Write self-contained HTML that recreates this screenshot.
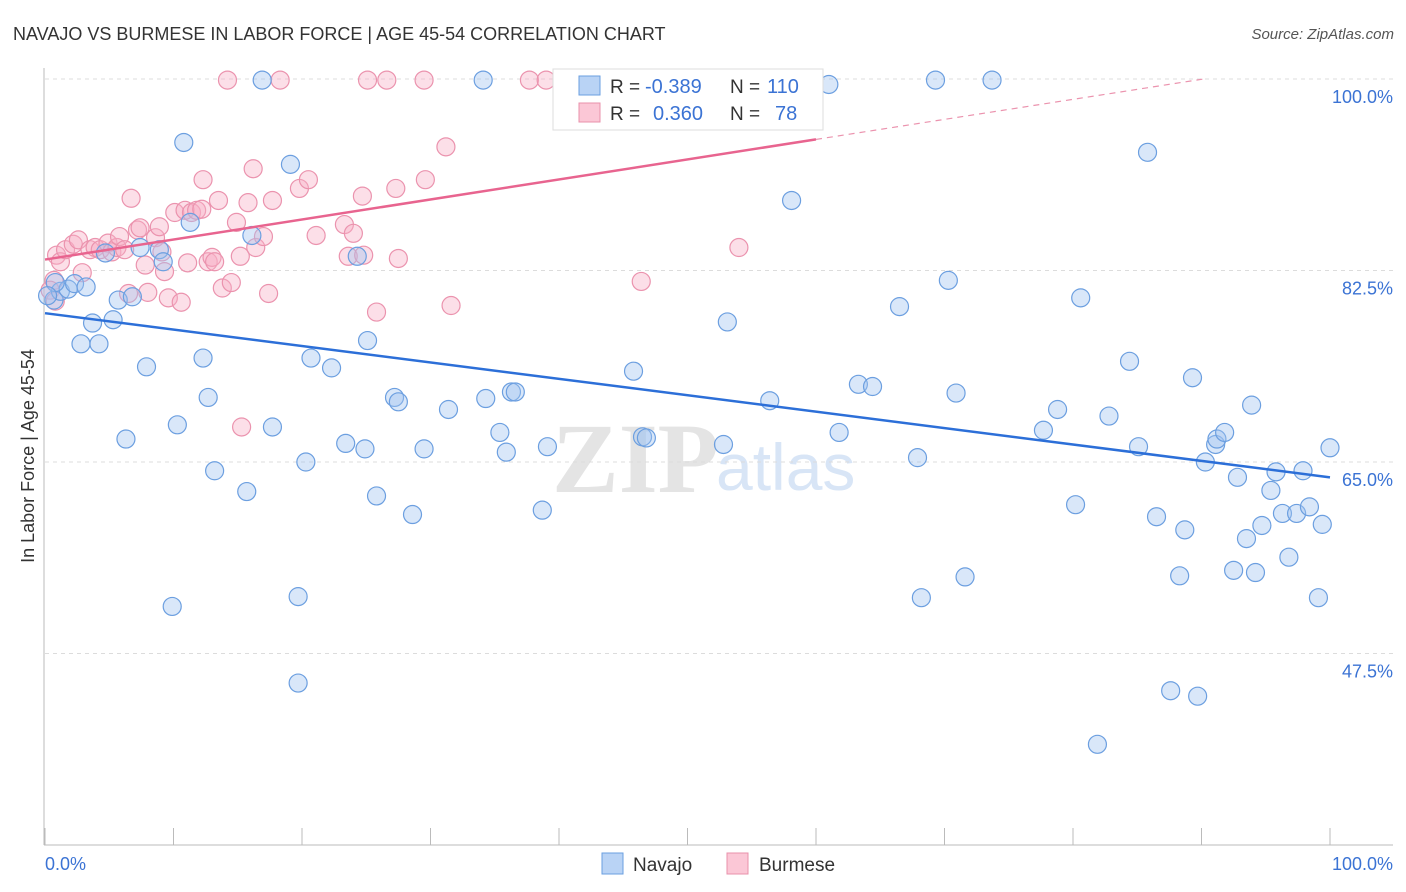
<!DOCTYPE html>
<html><head><meta charset="utf-8"><style>
body{margin:0;background:#fff;font-family:"Liberation Sans",sans-serif;}
#wrap{position:relative;width:1406px;height:892px;overflow:hidden;}
</style></head><body>
<div id="wrap">
<svg id="svg" width="1406" height="892" xmlns="http://www.w3.org/2000/svg">
<text x="13" y="40" font-size="18" fill="#333">NAVAJO VS BURMESE IN LABOR FORCE | AGE 45-54 CORRELATION CHART</text>
<text x="1394" y="39" font-size="15" fill="#555" font-style="italic" text-anchor="end">Source: ZipAtlas.com</text>
<text transform="translate(34,456) rotate(-90)" font-size="18" fill="#333" text-anchor="middle">In Labor Force | Age 45-54</text>
<g>
<text x="552" y="492" font-size="100" font-family="Liberation Serif,serif" fill="#e4e4e4" font-weight="bold">ZIP</text>
<text x="716" y="490" font-size="66" fill="#d8e5f6">atlas</text>
</g>
<g id="grid"></g>
<g id="axes"></g>
<g id="pts"></g>
<g id="lines"></g>
<g>
<rect x="553" y="69" width="270" height="61" fill="#fff" stroke="#ddd"/>
<rect x="579" y="76" width="21" height="19" fill="#b9d3f5" stroke="#6a9fe0"/>
<rect x="579" y="103" width="21" height="19" fill="#fbc7d6" stroke="#e890ab"/>
<text x="610" y="93" font-size="19" fill="#333">R = </text><text x="645" y="93" font-size="20" fill="#3b73d4">-0.389</text>
<text x="730" y="93" font-size="19" fill="#333">N = </text><text x="767" y="93" font-size="20" fill="#3b73d4">110</text>
<text x="610" y="120" font-size="19" fill="#333">R = </text><text x="653" y="120" font-size="20" fill="#3b73d4">0.360</text>
<text x="730" y="120" font-size="19" fill="#333">N = </text><text x="775" y="120" font-size="20" fill="#3b73d4">78</text>
</g>
<g>
<rect x="602" y="853" width="21" height="21" fill="#b9d3f5" stroke="#6a9fe0"/>
<text x="633" y="871" font-size="19" fill="#333">Navajo</text>
<rect x="727" y="853" width="21" height="21" fill="#fbc7d6" stroke="#e890ab"/>
<text x="759" y="871" font-size="19" fill="#333">Burmese</text>
</g>
</svg>
</div>
<script>
const navajoX=[0.7,1.2,1.8,2.3,3.2,3.7,2.8,4.2,5.3,5.7,6.8,7.9,6.3,10.3,9.9,10.8,11.3,12.3,12.7,13.2,15.7,16.1,16.9,17.7,19.1,19.7,19.7,20.3,20.7,22.3,23.4,24.3,24.9,25.1,25.8,27.2,27.5,28.6,29.5,31.4,34.1,34.3,35.4,35.9,36.3,36.6,38.7,39.1,40.5,45.8,46.5,46.8,52.4,52.8,53.1,56.4,58.1,61.0,61.8,63.3,64.4,66.5,67.9,68.2,69.3,70.3,70.9,71.6,73.7,77.7,78.8,80.2,80.6,81.9,82.8,84.4,85.1,85.8,86.5,87.6,88.3,88.7,89.3,89.7,90.3,91.1,91.2,91.8,92.5,92.8,93.5,93.9,94.2,94.7,95.4,95.8,96.3,96.8,97.4,97.9,98.4,99.1,99.4,100.0,4.7,7.4,8.9,9.2,0.8,0.2];
const navajoY=[79.8,80.6,80.8,81.3,81.0,77.7,75.8,75.8,78.0,79.8,80.1,73.7,67.1,68.4,51.8,94.2,86.9,74.5,70.9,64.2,62.3,85.7,99.9,68.2,92.2,44.8,52.7,65.0,74.5,73.6,66.7,83.8,66.2,76.1,61.9,70.9,70.5,60.2,66.2,69.8,99.9,70.8,67.7,65.9,71.4,71.4,60.6,66.4,99.9,73.3,67.3,67.2,99.9,66.6,77.8,70.6,88.9,99.5,67.7,72.1,71.9,79.2,65.4,52.6,99.9,81.6,71.3,54.5,99.9,67.9,69.8,61.1,80.0,39.2,69.2,74.2,66.4,93.3,60.0,44.1,54.6,58.8,72.7,43.6,65.0,66.6,67.1,67.7,55.1,63.6,58.0,70.2,54.9,59.2,62.4,64.1,60.3,56.3,60.3,64.2,60.9,52.6,59.3,66.3,84.1,84.6,84.4,83.3,81.4,80.2];
const burmeseX=[0.7,0.4,0.8,0.9,1.2,1.6,2.2,2.6,2.9,3.5,3.9,4.3,4.9,5.2,5.6,5.8,6.2,6.7,6.5,7.2,7.4,7.8,8.0,8.6,8.9,9.1,9.3,9.6,10.1,10.6,10.9,11.1,11.4,11.8,12.3,12.7,13.0,13.2,13.5,13.8,14.2,14.5,14.9,15.2,15.3,15.8,16.2,16.4,17.0,17.4,17.7,18.3,19.8,20.5,21.1,23.3,23.6,24.0,24.7,24.8,25.1,25.8,26.6,27.3,27.5,29.5,29.6,31.2,31.6,37.7,39.0,46.4,54.0,12.2];
const burmeseY=[81.6,80.7,79.7,83.9,83.3,84.4,84.9,85.3,82.3,84.4,84.6,84.4,85.0,84.2,84.6,85.6,84.4,89.1,80.4,86.2,86.4,83.0,80.5,85.5,86.5,84.2,82.4,80.0,87.8,79.6,88.0,83.2,87.8,88.0,90.8,83.3,83.7,83.3,88.9,80.9,99.9,81.4,86.9,83.8,68.2,88.7,91.8,84.6,85.6,80.4,88.9,99.9,90.0,90.8,85.7,86.7,83.8,85.9,89.3,83.9,99.9,78.7,99.9,90.0,83.6,99.9,90.8,93.8,79.3,99.9,99.9,81.5,84.6,88.1];
const yTicks=[100,82.5,65,47.5];
const yTickLabels=["100.0%","82.5%","65.0%","47.5%"];
const xTicks=[0,10,20,30,40,50,60,70,80,90,100];
const navajoFit=[78.6,-0.15];   // intercept, slope
const burmeseFit=[83.5,0.183];

const X0=45,X1=1330,Y100=79,PPY=10.943;
const sx=v=>X0+(X1-X0)*v/100;
const sy=v=>Y100+(100-v)*PPY;
const NS="http://www.w3.org/2000/svg";
function mk(tag,attrs,parent){const e=document.createElementNS(NS,tag);for(const k in attrs)e.setAttribute(k,attrs[k]);parent.appendChild(e);return e;}
const grid=document.getElementById('grid'),axes=document.getElementById('axes'),pts=document.getElementById('pts'),lines=document.getElementById('lines');
yTicks.forEach((t,i)=>{
  const l=mk('line',{x1:45,x2:1393,y1:sy(t),y2:sy(t),stroke:'#dcdcdc','stroke-dasharray':'4,4'},grid);
  
  
  const tx=mk('text',{x:1393,y:sy(t)+24,'font-size':18,fill:'#3b73d4','text-anchor':'end'},grid);
  tx.textContent=yTickLabels[i];
  
  
});
const ya=mk('line',{x1:44,x2:44,y1:68,y2:845,stroke:'#bbb'},axes);


const xa=mk('line',{x1:44,x2:1393,y1:845,y2:845,stroke:'#bbb'},axes);


xTicks.forEach(t=>{
  const l=mk('line',{x1:sx(t),x2:sx(t),y1:828,y2:845,stroke:'#bbb'},axes);
  
  
});
const xl0=mk('text',{x:45,y:870,'font-size':18,fill:'#3b73d4'},axes);xl0.textContent='0.0%';


const xl1=mk('text',{x:1393,y:870,'font-size':18,fill:'#3b73d4','text-anchor':'end'},axes);xl1.textContent='100.0%';


burmeseX.forEach((x,i)=>{
  const c=mk('circle',{cx:sx(x),cy:sy(burmeseY[i]),r:9,fill:'rgba(248,176,198,0.4)',stroke:'#eb93ae','stroke-width':1.2},pts);
  
  
});
navajoX.forEach((x,i)=>{
  const c=mk('circle',{cx:sx(x),cy:sy(navajoY[i]),r:9,fill:'rgba(160,196,240,0.4)',stroke:'#6c9fe0','stroke-width':1.2},pts);
  
  
});
const nl=mk('line',{x1:sx(0),y1:sy(navajoFit[0]),x2:sx(100),y2:sy(navajoFit[0]+navajoFit[1]*100),stroke:'#2c6fd8','stroke-width':2.5},lines);


const bl=mk('line',{x1:sx(0),y1:sy(burmeseFit[0]),x2:sx(60),y2:sy(burmeseFit[0]+burmeseFit[1]*60),stroke:'#e8648f','stroke-width':2.5},lines);


const xEnd=(100-burmeseFit[0])/burmeseFit[1];
const bd=mk('line',{x1:sx(60),y1:sy(burmeseFit[0]+burmeseFit[1]*60),x2:sx(xEnd),y2:sy(100),stroke:'#eb93ae','stroke-width':1.2,'stroke-dasharray':'6,5'},lines);


</script>
</body></html>
